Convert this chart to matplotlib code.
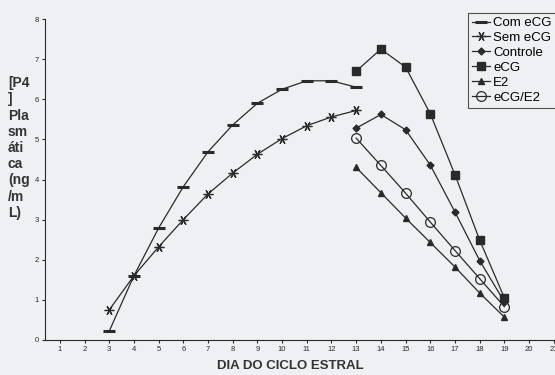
import numpy as np
import matplotlib
matplotlib.use("Agg")
import matplotlib.pyplot as plt

plt.rcParams['font.family'] = ['Liberation Sans', 'DejaVu Sans']

dias_a = [3, 4, 5, 6, 7, 8, 9, 10, 11, 12, 13]
com_ecg = [0.22, 1.6, 2.79, 3.82, 4.69, 5.36, 5.9, 6.25, 6.46, 6.46, 6.3]
sem_ecg = [0.75, 1.6, 2.32, 3.0, 3.64, 4.16, 4.63, 5.02, 5.34, 5.56, 5.72]

dias_b = [13, 14, 15, 16, 17, 18, 19]
controle = [5.28, 5.62, 5.24, 4.36, 3.19, 1.98, 0.95]
ecg = [6.7, 7.25, 6.8, 5.64, 4.12, 2.49, 1.05]
e2 = [4.3, 3.67, 3.04, 2.43, 1.82, 1.17, 0.57]
ecg_e2 = [5.03, 4.35, 3.66, 2.94, 2.23, 1.53, 0.83]

bg = '#eef0f4'
lc = '#2a2a2a'

fig = plt.figure(figsize=(5.55, 3.75), dpi=100, facecolor=bg)
ax = fig.add_axes([45/555, 35/375, 510/555, 321/375], facecolor=bg)

ax.plot(dias_a, com_ecg, color=lc, lw=0.9, marker='_', ms=8, mew=2.2, label='Com eCG')
ax.plot(dias_a, sem_ecg, color=lc, lw=0.9, marker=(6, 2, 90), ms=7, mew=0.9, label='Sem eCG')
ax.plot(dias_b, controle, color=lc, lw=0.9, marker='D', ms=3.5, label='Controle')
ax.plot(dias_b, ecg, color=lc, lw=0.9, marker='s', ms=5.5, label='eCG')
ax.plot(dias_b, e2, color=lc, lw=0.9, marker='^', ms=4.5, label='E2')
ax.plot(dias_b, ecg_e2, color=lc, lw=0.9, marker='o', ms=7, mfc='none', mew=0.9, label='eCG/E2')

ax.set_xlim(0.4, 21.05)
ax.set_ylim(0, 8)
ax.set_xticks(range(1, 22))
ax.set_yticks(range(0, 9))
ax.spines['top'].set_visible(False)
ax.spines['right'].set_visible(False)
ax.spines['left'].set_color(lc)
ax.spines['bottom'].set_color(lc)
ax.tick_params(labelsize=5.5, length=2.5, width=0.8, colors=lc, pad=2)

fig.text(290/555, 1 - 366/375, 'DIA DO CICLO ESTRAL', ha='center', va='center',
         fontsize=9.5, fontweight='bold', color='#333333')
fig.text(8/555, 1 - 148/375, '[P4\n]\nPla\nsm\náti\nca\n(ng\n/m\nL)', ha='left', va='center',
         fontsize=10, fontweight='bold', color='#333333', linespacing=1.2)

leg = fig.legend(loc='upper left', bbox_to_anchor=(468/555, 1 - 13/375), fontsize=9.5,
                 frameon=True, fancybox=False, handlelength=1.4, handletextpad=0.2,
                 borderpad=0.3, labelspacing=0.2, borderaxespad=0)
leg.get_frame().set_edgecolor(lc)
leg.get_frame().set_facecolor(bg)
leg.get_frame().set_linewidth(0.8)

fig.savefig('out.png', dpi=100, facecolor=bg)
